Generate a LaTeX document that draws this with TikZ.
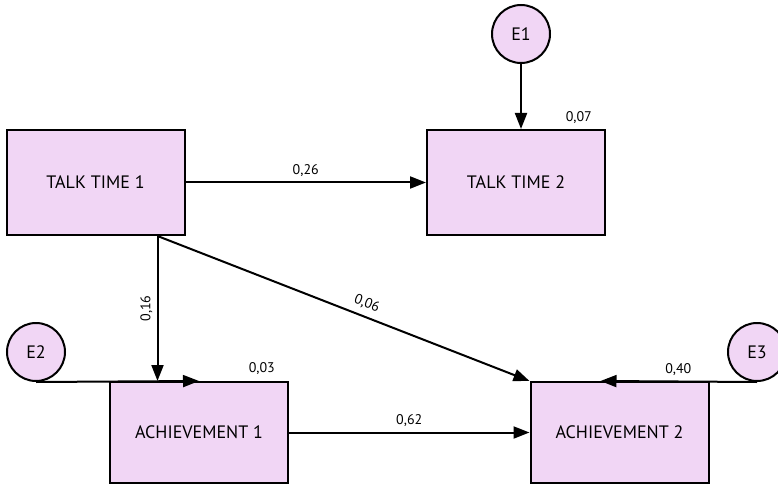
\documentclass[tikz,border=0pt]{standalone}
\usepackage{fontspec}
\setmainfont{PT Sans}
\usetikzlibrary{arrows.meta,calc}
\definecolor{boxfill}{RGB}{241,214,245}
\begin{document}
\begin{tikzpicture}[x=1pt,y=-1pt,
  box/.style={draw=black,line width=2pt,fill=boxfill,minimum width=178pt,font=\fontsize{18}{20}\selectfont},
  err/.style={draw=black,line width=2pt,fill=boxfill,circle,minimum size=58pt,inner sep=0pt,font=\fontsize{18}{20}\selectfont},
  arr/.style={line width=2pt,-{Triangle[length=16pt,width=12pt]}},
  wt/.style={font=\fontsize{14}{16}\selectfont,inner sep=2pt}]

\useasboundingbox (0,0) rectangle (778,486);

\node[box,minimum height=105pt] (T1) at (95.5,182.5) {TALK TIME 1};
\node[box,minimum height=105pt] (T2) at (516,182.5) {TALK TIME 2};
\node[box,minimum height=101pt] (A1) at (199,432.5) {ACHIEVEMENT 1};
\node[box,minimum height=101pt] (A2) at (619.5,432.5) {ACHIEVEMENT 2};

\node[err] (E1) at (521,34) {E1};
\node[err] (E2) at (36,352) {E2};
\node[err] (E3) at (757,352) {E3};

\coordinate (t1out) at ($(T1.south east)+(-28,0)$);
\coordinate (a2in) at ($(A2.north)+(-19,0)$);

\draw[arr] (T1) -- (T2) node[wt,midway,above=3pt] {0,26};
\draw[arr] (t1out) -- (t1out |- A1.north) node[wt,midway,rotate=90,anchor=south,yshift=2pt] {0,16};
\draw[arr] (t1out) -- (A2.north west) node[wt,pos=0.55,sloped,above=4pt] {0,06};
\draw[arr] (A1) -- (A2) node[wt,midway,above=3pt] {0,62};

\draw[arr] (E1) -- (T2.north -| E1);
\draw[arr] (E2.south) -- (A1.north);
\draw[arr] (E3.south) -- (a2in);

\node[wt,anchor=south east] (w1) at ($(T2.north east)+(-12,-3)$) {0,07};
\node[wt,anchor=south east] (w2) at ($(A1.north east)+(-12,-4)$) {0,03};
\node[wt,anchor=south east] (w3) at ($(A2.north east)+(-16,-3)$) {0,40};

\end{tikzpicture}
\end{document}
